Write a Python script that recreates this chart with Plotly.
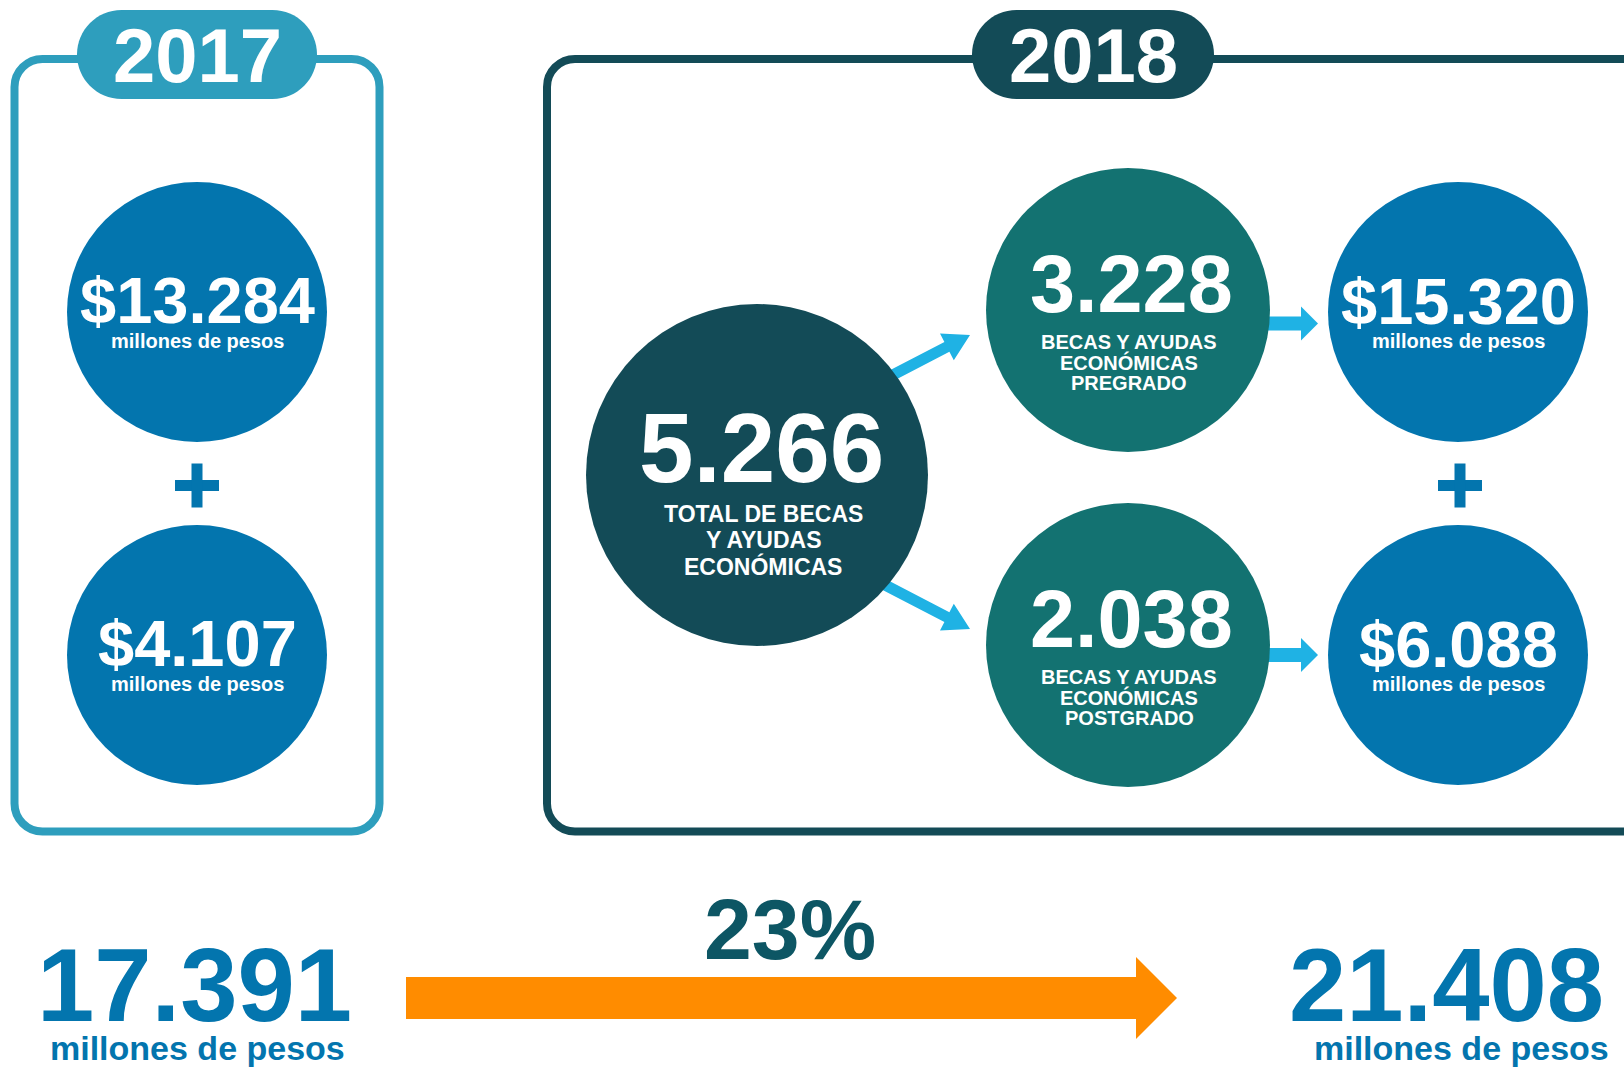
import math
import plotly.graph_objects as go

# ---------------- data ----------------
anios = ["2017", "2018"]
montos_2017 = [13284, 4107]            # millones de pesos
total_becas_2018 = 5266
tipos_becas_2018 = ["PREGRADO", "POSTGRADO"]
becas_2018 = [3228, 2038]
montos_2018 = [15320, 6088]            # millones de pesos
totales = [17391, 21408]               # 2017, 2018 (millones de pesos)
crecimiento_pct = 23
unidad = "millones de pesos"

# ---------------- styling / layout (positions in px) ----------------
W, H = 1624, 1069
FONT = "Liberation Sans, Arial, Helvetica, sans-serif"
C_LIGHT = "#2e9ebd"
C_DARK = "#134b57"
C_TEAL = "#137271"
C_BLUE = "#0375ae"
C_CYAN = "#1fb2e4"
C_ORANGE = "#ff8c00"
C_PCT = "#0d5664"

left_cx = 197
left_cy = [312, 655]
circ_r = 130
teal_cx = 1128
teal_cy = [310, 645]
teal_r = 142
big_c = (757, 475)
big_r = 171
blue_cx = 1458
blue_cy = [312, 655]


def fmt(v):
    return f"{v:,}".replace(",", ".")


def rrect(x0, y0, x1, y1, r):
    k = 0.5523 * r
    return (f"M{x0+r},{y0} L{x1-r},{y0} C{x1-r+k},{y0} {x1},{y0+r-k} {x1},{y0+r} "
            f"L{x1},{y1-r} C{x1},{y1-r+k} {x1-r+k},{y1} {x1-r},{y1} "
            f"L{x0+r},{y1} C{x0+r-k},{y1} {x0},{y1-r+k} {x0},{y1-r} "
            f"L{x0},{y0+r} C{x0},{y0+r-k} {x0+r-k},{y0} {x0+r},{y0} Z")


def arrow_path(xs, ys, xt, yt, w, hw, hl):
    dx, dy = xt - xs, yt - ys
    L = math.hypot(dx, dy)
    ux, uy = dx / L, dy / L
    nx, ny = -uy, ux
    bx, by = xt - ux * hl, yt - uy * hl
    pts = [(xs + nx * w, ys + ny * w), (bx + nx * w, by + ny * w),
           (bx + nx * hw, by + ny * hw), (xt, yt),
           (bx - nx * hw, by - ny * hw), (bx - nx * w, by - ny * w),
           (xs - nx * w, ys - ny * w)]
    return "M" + " L".join(f"{x:.1f},{y:.1f}" for x, y in pts) + " Z"


fig = go.Figure()
fig.add_trace(go.Scatter(x=[0, W], y=[0, H], mode="markers",
                         marker=dict(opacity=0), hoverinfo="skip", showlegend=False))


def shape_path(path, fill=None, line=None, lw=0):
    fig.add_shape(type="path", path=path, xref="x", yref="y",
                  fillcolor=fill if fill else "rgba(0,0,0,0)",
                  line=dict(color=line if line else "rgba(0,0,0,0)", width=lw))


def circle(cx, cy, r, color):
    fig.add_shape(type="circle", xref="x", yref="y", x0=cx - r, x1=cx + r,
                  y0=cy - r, y1=cy + r, fillcolor=color, line=dict(width=0))


def rect(x0, y0, x1, y1, color):
    fig.add_shape(type="rect", xref="x", yref="y", x0=x0, x1=x1, y0=y0, y1=y1,
                  fillcolor=color, line=dict(width=0))


def text(x, y, s, size, color="white", family=FONT):
    fig.add_annotation(x=x, y=y, xref="x", yref="y", text=s, showarrow=False,
                       xanchor="center", yanchor="middle",
                       font=dict(family=family, size=size, color=color, weight="bold"))


def plus(cx, cy, color):
    rect(cx - 22, cy - 5.5, cx + 22, cy + 5.5, color)
    rect(cx - 5.5, cy - 22, cx + 5.5, cy + 22, color)


# ---- 2017 box ----
shape_path(rrect(14.5, 59, 379.5, 831.5, 28), line=C_LIGHT, lw=8)
shape_path(rrect(77, 10, 317, 99, 44.5), fill=C_LIGHT)
text(197, 55, anios[0], 76)

for cy, v in zip(left_cy, montos_2017):
    circle(left_cx, cy, circ_r, C_BLUE)
    text(left_cx, cy - 12, "$" + fmt(v), 65)
    text(left_cx, cy + 29, unidad, 20)
plus(left_cx, 485.5, C_BLUE)

# ---- 2018 box ----
shape_path(rrect(547, 59, 1650, 831.5, 28), line=C_DARK, lw=8)
shape_path(rrect(972, 10, 1214, 99, 44.5), fill=C_DARK)
text(1093, 55, anios[1], 76)

# arrows (drawn under circles)
shape_path(arrow_path(860, 392, 970, 335, 5.5, 15, 26), fill=C_CYAN)
shape_path(arrow_path(860, 572, 970, 629, 5.5, 15, 26), fill=C_CYAN)
for cy in [323.5, 655]:
    shape_path(arrow_path(1255, cy, 1318, cy, 7, 17, 17), fill=C_CYAN)

circle(big_c[0], big_c[1], big_r, C_DARK)
text(761, 448, fmt(total_becas_2018), 98)
for i, ln in enumerate(["TOTAL DE BECAS", "Y AYUDAS", "ECONÓMICAS"]):
    text(763, 514 + 26 * i, ln, 23)

for cy, n, tipo in zip(teal_cy, becas_2018, tipos_becas_2018):
    circle(teal_cx, cy, teal_r, C_TEAL)
    text(1131, cy - 26, fmt(n), 81)
    for i, ln in enumerate(["BECAS Y AYUDAS", "ECONÓMICAS", tipo]):
        text(1129, cy + 32 + 20.5 * i, ln, 20)

for cy, v in zip(blue_cy, montos_2018):
    circle(blue_cx, cy, circ_r, C_BLUE)
    text(blue_cx, cy - 11, "$" + fmt(v), 65)
    text(blue_cx, cy + 29, unidad, 20)
plus(1460, 485.5, C_BLUE)

# ---- bottom comparison ----
shape_path(arrow_path(406, 998, 1177, 998, 21, 41, 41), fill=C_ORANGE)
text(790, 929, f"{crecimiento_pct}%", 86, C_PCT)
text(194, 985, fmt(totales[0]), 103, C_BLUE)
text(197, 1048, unidad, 34, C_BLUE)
text(1446, 985, fmt(totales[1]), 103, C_BLUE)
text(1461, 1048, unidad, 34, C_BLUE)

fig.update_layout(
    width=W, height=H, margin=dict(l=0, r=0, t=0, b=0),
    paper_bgcolor="white", plot_bgcolor="white", showlegend=False,
    xaxis=dict(range=[0, W], visible=False, fixedrange=True),
    yaxis=dict(range=[H, 0], visible=False, fixedrange=True),
)

fig.write_html("out.html", config={"displayModeBar": False},
               post_script="document.body.style.margin='0';document.body.style.overflow='hidden';")
